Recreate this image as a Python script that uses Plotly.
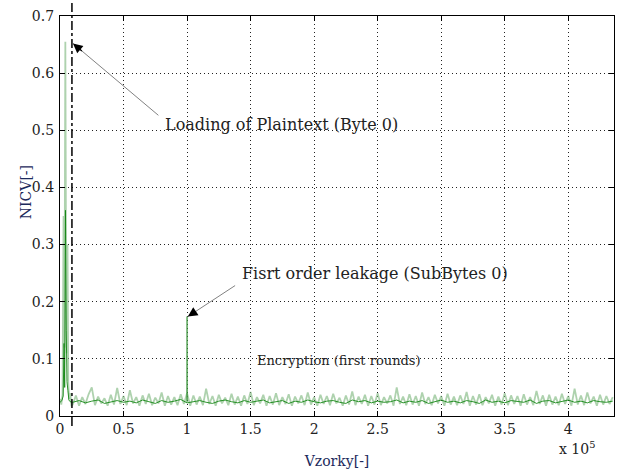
import plotly.graph_objects as go

# ---------------- data ----------------
# x tick positions (samples) and labels (x 10^5)
xtick_vals = [0, 50000, 100000, 150000, 200000, 250000, 300000, 350000, 400000]
xtick_text = ["0", "0.5", "1", "1.5", "2", "2.5", "3", "3.5", "4"]
ytick_vals = [0, 0.1, 0.2, 0.3, 0.4, 0.5, 0.6, 0.7]
ytick_text = ["0", "0.1", "0.2", "0.3", "0.4", "0.5", "0.6", "0.7"]

# start of trace: loading of plaintext (light envelope & mean line)
peak_light_x = [0, 1000, 2000, 2800, 3500, 4200, 4700, 5300, 5900, 6500, 7200, 8000, 9000]
peak_light_y = [0.030, 0.020, 0.038, 0.350, 0.120, 0.655, 0.300, 0.110, 0.300, 0.060, 0.030, 0.040, 0.019]
peak_dark_x = [0, 1500, 2500, 3200, 3700, 4300, 4900, 5500, 6200, 7000, 8000]
peak_dark_y = [0.024, 0.027, 0.035, 0.127, 0.050, 0.360, 0.150, 0.060, 0.045, 0.028, 0.025]

# first order leakage spike at 1e5
leak_x = [99700, 100000, 100300]
leak_y = [0.025, 0.174, 0.025]

# noise floor (light band) sampled every 2500 from 10000
LIGHT_START, LIGHT_STEP = 10000, 2500
light_noise = [
    0.020, 0.036, 0.018, 0.033, 0.021, 0.038, 0.050, 0.019, 0.034, 0.022,
    0.031, 0.018, 0.037, 0.020, 0.049, 0.021, 0.035, 0.019, 0.045, 0.022,
    0.033, 0.018, 0.036, 0.021, 0.039, 0.019, 0.032, 0.022, 0.041, 0.018,
    0.035, 0.020, 0.033, 0.019, 0.038, 0.021, 0.040, 0.018, 0.036, 0.020,
    0.034, 0.019, 0.048, 0.021, 0.035, 0.018, 0.037, 0.022, 0.032, 0.019,
    0.039, 0.020, 0.034, 0.018, 0.036, 0.021, 0.042, 0.019, 0.033, 0.022,
    0.037, 0.018, 0.035, 0.020, 0.040, 0.019, 0.033, 0.021, 0.038, 0.018,
    0.034, 0.022, 0.036, 0.019, 0.041, 0.020, 0.033, 0.018, 0.037, 0.021,
    0.035, 0.019, 0.039, 0.022, 0.032, 0.018, 0.036, 0.020, 0.043, 0.019,
    0.034, 0.021, 0.037, 0.018, 0.035, 0.020, 0.040, 0.019, 0.033, 0.022,
    0.036, 0.018, 0.050, 0.021, 0.034, 0.019, 0.038, 0.020, 0.035, 0.018,
    0.041, 0.021, 0.033, 0.019, 0.037, 0.022, 0.035, 0.018, 0.039, 0.020,
    0.034, 0.019, 0.036, 0.021, 0.042, 0.018, 0.035, 0.020, 0.038, 0.019,
    0.033, 0.022, 0.037, 0.018, 0.034, 0.020, 0.040, 0.019, 0.036, 0.021,
    0.035, 0.018, 0.038, 0.020, 0.033, 0.019, 0.044, 0.021, 0.036, 0.018,
    0.037, 0.020, 0.034, 0.019, 0.039, 0.021, 0.035, 0.018, 0.048, 0.020,
    0.036, 0.019, 0.041, 0.022, 0.034, 0.018, 0.037, 0.020, 0.035, 0.021,
    0.033,
]

# mean line sampled every 5000 from 10000
DARK_START, DARK_STEP = 10000, 5000
dark_noise = [
    0.024, 0.027, 0.023, 0.026, 0.028, 0.022, 0.025, 0.027, 0.024, 0.026,
    0.023, 0.028, 0.025, 0.022, 0.027, 0.024, 0.026, 0.029, 0.023, 0.025,
    0.027, 0.024, 0.022, 0.026, 0.028, 0.025, 0.023, 0.027, 0.024, 0.026,
    0.028, 0.023, 0.025, 0.027, 0.022, 0.026, 0.024, 0.028, 0.025, 0.023,
    0.026, 0.027, 0.024, 0.022, 0.028, 0.025, 0.027, 0.023, 0.026, 0.024,
    0.025, 0.028, 0.023, 0.026, 0.024, 0.027, 0.022, 0.025, 0.028, 0.024,
    0.026, 0.023, 0.027, 0.025, 0.022, 0.028, 0.024, 0.026, 0.023, 0.027,
    0.025, 0.024, 0.028, 0.022, 0.026, 0.027, 0.023, 0.025, 0.028, 0.024,
    0.026, 0.023, 0.027, 0.025, 0.024, 0.026,
]

MARKER_X = 9400  # dash-dot boundary

light_x = peak_light_x + [LIGHT_START + LIGHT_STEP * i for i in range(len(light_noise))]
light_y = peak_light_y + light_noise
dark_x = peak_dark_x + [DARK_START + DARK_STEP * i for i in range(len(dark_noise))]
dark_y = peak_dark_y + dark_noise

SERIF = "DejaVu Serif"

fig = go.Figure()
fig.add_trace(go.Scatter(x=light_x, y=light_y, mode="lines",
                         line=dict(color="rgba(120,180,120,0.6)", width=1.8),
                         hoverinfo="skip", showlegend=False))
fig.add_trace(go.Scatter(x=dark_x, y=dark_y, mode="lines",
                         line=dict(color="rgb(20,135,20)", width=0.9),
                         hoverinfo="skip", showlegend=False))
fig.add_trace(go.Scatter(x=leak_x, y=leak_y, mode="lines",
                         line=dict(color="rgb(60,150,60)", width=0.8),
                         hoverinfo="skip", showlegend=False))

# dash-dot vertical line
fig.add_shape(type="line", xref="x", yref="paper", x0=MARKER_X, x1=MARKER_X,
              y0=-0.025, y1=1.045, line=dict(color="black", width=1.5, dash="dashdot"))

# arrows (gray shaft + black head)
arrows = [
    dict(tip=(10200, 0.652), tail=(78600, 0.524)),
    dict(tip=(100600, 0.174), tail=(139000, 0.230)),
]
for a in arrows:
    tx, ty = a["tip"]
    sx, sy = a["tail"]
    fig.add_annotation(x=tx, y=ty, ax=sx, ay=sy, xref="x", yref="y", axref="x", ayref="y",
                       text="", showarrow=True, arrowhead=0, arrowwidth=1,
                       arrowcolor="rgb(130,130,130)")
    hx = tx + (sx - tx) * 0.12
    hy = ty + (sy - ty) * 0.12
    fig.add_annotation(x=tx, y=ty, ax=hx, ay=hy, xref="x", yref="y", axref="x", ayref="y",
                       text="", showarrow=True, arrowhead=2, arrowsize=1.6, arrowwidth=1.2,
                       arrowcolor="black")

fig.add_annotation(x=80900, y=0.510, xref="x", yref="y", text="Loading of Plaintext (Byte 0)",
                   showarrow=False, xanchor="left", yanchor="middle",
                   font=dict(family=SERIF, size=16, color="#222"))
fig.add_annotation(x=141500, y=0.249, xref="x", yref="y", text="Fisrt order leakage (SubBytes 0)",
                   showarrow=False, xanchor="left", yanchor="middle",
                   font=dict(family=SERIF, size=16, color="#222"))
fig.add_annotation(x=153200, y=0.0976, xref="x", yref="y", text="Encryption (first rounds)",
                   showarrow=False, xanchor="left", yanchor="middle",
                   font=dict(family=SERIF, size=13, color="#222"))

# axis titles and exponent
fig.add_annotation(x=16, y=193, xref="paper", yref="paper", text="NICV[-]", textangle=-90,
                   showarrow=False, font=dict(family=SERIF, size=14, color="#1c2a5c"))
fig.add_annotation(x=598, y=461, xref="paper", yref="paper", text="x 10<sup>5</sup>",
                   showarrow=False, font=dict(family=SERIF, size=14, color="#222"))

W, H = 619, 471
ML, MR, MT, MB = 60, 4, 16, 53
# convert paper annotations given in pixels
for ann in fig.layout.annotations:
    if ann.xref == "paper":
        ann.x = (ann.x - ML) / (W - ML - MR)
        ann.y = 1 - (ann.y - MT) / (H - MT - MB)

GRID_DASH = "1px,3px"
fig.update_layout(
    width=W, height=H,
    margin=dict(l=ML, r=MR, t=MT, b=MB),
    paper_bgcolor="white", plot_bgcolor="white",
    font=dict(family=SERIF, size=13, color="#222"),
)
fig.update_xaxes(range=[0, 436000], tickvals=xtick_vals, ticktext=xtick_text,
                 showgrid=True, gridcolor="#222", griddash=GRID_DASH, gridwidth=1,
                 showline=True, linecolor="black", linewidth=1.3, mirror="ticks",
                 ticks="inside", ticklen=5, tickcolor="black", zeroline=False,
                 tickfont=dict(family=SERIF, size=14, color="#222"),
                 title=dict(text="Vzorky[-]", standoff=20,
                            font=dict(family=SERIF, size=14, color="#1c2a5c")))
fig.update_yaxes(range=[0, 0.7], tickvals=ytick_vals, ticktext=ytick_text,
                 showgrid=True, gridcolor="#222", griddash=GRID_DASH, gridwidth=1,
                 showline=True, linecolor="black", linewidth=1.3, mirror="ticks",
                 ticks="inside", ticklen=5, tickcolor="black", zeroline=False,
                 ticklabelstandoff=2,
                 tickfont=dict(family=SERIF, size=14, color="#222"))

fig.write_html("out.html")
